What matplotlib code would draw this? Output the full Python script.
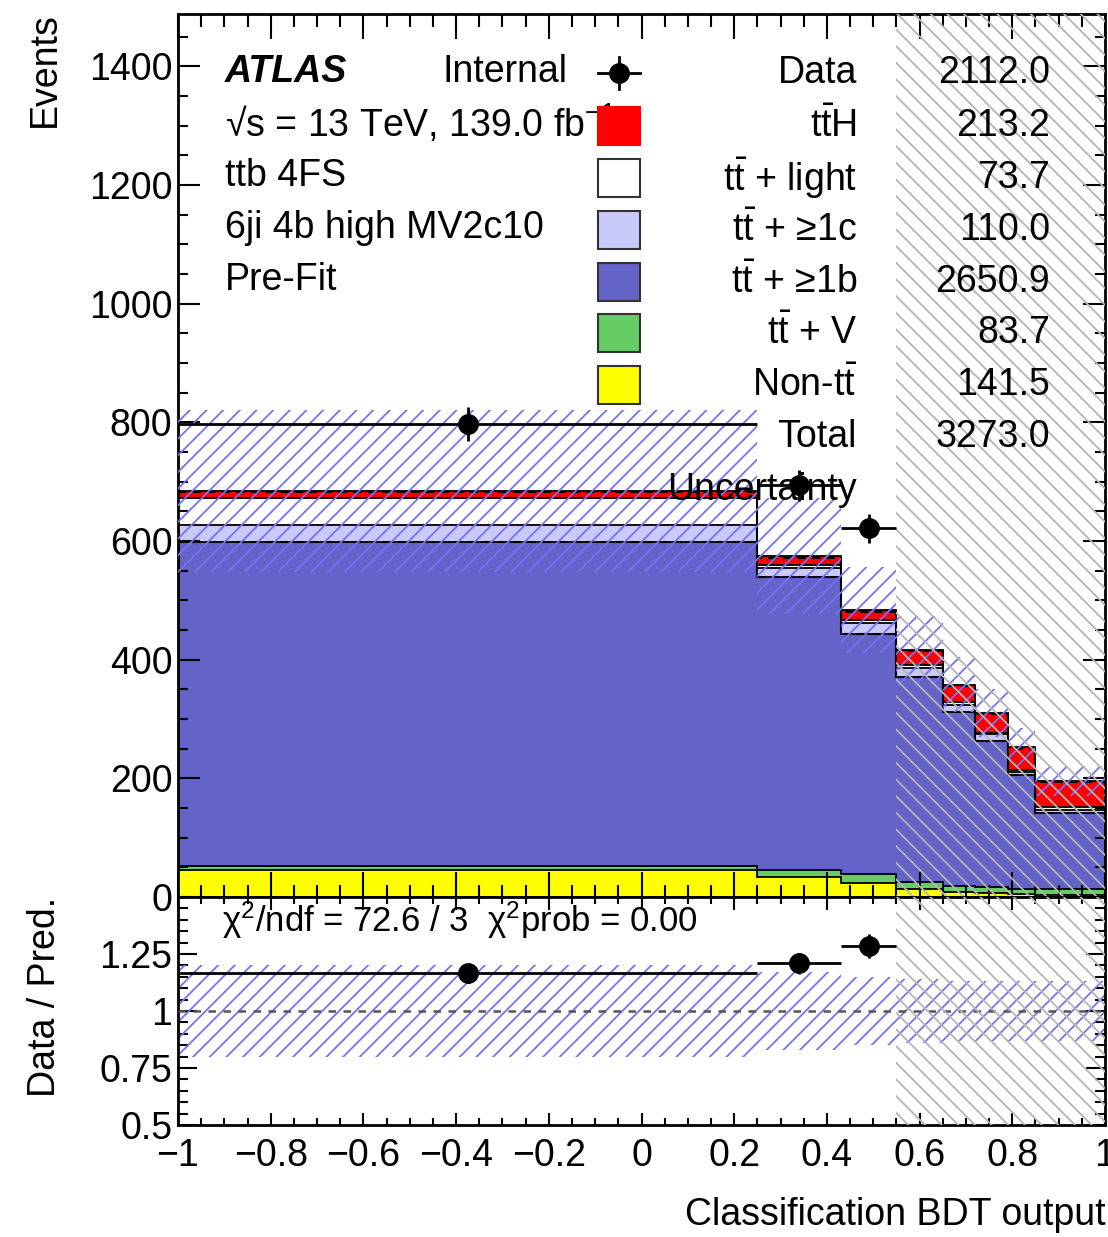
import numpy as np
import matplotlib
matplotlib.use("Agg")
import matplotlib.pyplot as plt
from matplotlib.patches import Rectangle
from matplotlib.lines import Line2D
from matplotlib.ticker import MultipleLocator, FixedLocator, FuncFormatter

plt.rcParams['font.family'] = ['Liberation Sans', 'DejaVu Sans']
plt.rcParams['mathtext.fontset'] = 'custom'
plt.rcParams['mathtext.rm'] = 'Liberation Sans'
plt.rcParams['mathtext.it'] = 'Liberation Sans:italic'
plt.rcParams['mathtext.bf'] = 'Liberation Sans:bold'
plt.rcParams['hatch.linewidth'] = 1.3

# ---------------- data ----------------
edges = [-1.0, 0.25, 0.43, 0.55, 0.65, 0.72, 0.79, 0.85, 1.0]
blind_from = 0.55
non_tt = [45, 33, 24, 14, 9, 7, 5, 4]
ttV = [8, 12, 14, 11, 10, 10, 9, 9]
tt_1b = [546, 494, 405, 346, 293, 246, 192, 129]
tt_1c = [28, 16, 18, 15, 12, 11, 5, 5]
tt_light = [45, 5, 5, 5, 4, 3, 3, 4]
ttH = [12, 14, 17, 25, 30, 33, 38, 44]
data = [797, 694, 621]          # unblinded bins only
rel_unc = [0.20, 0.17, 0.15, 0.14, 0.13, 0.13, 0.13, 0.13]

legend_labels = ["Data", r"$\mathregular{t\bar{t}H}$", r"$\mathregular{t\bar{t}}$ + light",
                 r"$\mathregular{t\bar{t}}$ + ≥1c", r"$\mathregular{t\bar{t}}$ + ≥1b",
                 r"$\mathregular{t\bar{t}}$ + V", r"Non-$\mathregular{t\bar{t}}$", "Total", "Uncertainty"]
legend_values = ["2112.0", "213.2", "73.7", "110.0", "2650.9", "83.7", "141.5", "3273.0", ""]
left_texts = ["√s = 13 TeV, 139.0 fb$^{-1}$", "ttb 4FS", "6ji 4b high MV2c10", "Pre-Fit"]
chi2_text = r"$\mathregular{\chi^{2}}$/ndf = 72.6 / 3  $\mathregular{\chi^{2}}$prob = 0.00"

FS = 27

# ---------------- figure ----------------
W, H = 1108, 1237
fig = plt.figure(figsize=(W / 100, H / 100), dpi=100)


def fx(x):
    return x / W


def fy(y):
    return 1 - y / H


ax = fig.add_axes([fx(178), fy(897), (1105 - 178) / W, (897 - 14) / H])
rax = fig.add_axes([fx(178), fy(1125), (1105 - 178) / W, (1125 - 897) / H])

edges_a = np.array(edges)
widths = np.diff(edges_a)
centers = 0.5 * (edges_a[:-1] + edges_a[1:])

comps = [(non_tt, '#ffff00'), (ttV, '#66cc66'), (tt_1b, '#6363c8'),
         (tt_1c, '#c9c9fa'), (tt_light, '#ffffff'), (ttH, '#ff0000')]
cum = np.zeros(len(centers))
tops = []
for vals, col in comps:
    top = cum + np.array(vals, float)
    ax.stairs(top, edges_a, baseline=cum.copy(), fill=True, color=col, lw=0, zorder=1)
    ax.stairs(top, edges_a, baseline=None, color='black', lw=1.3, zorder=2)
    tops.append(top)
    cum = top
total = cum
# dashed overlays as in the reference (top of tt+>=1b and of ttH)
ax.stairs(tops[2], edges_a, baseline=None, color='black', lw=1.5, ls=(0, (4, 3)), zorder=2)
ax.stairs(total - 2, edges_a, baseline=None, color='black', lw=1.5, ls=(0, (4, 3)), zorder=2)

unc = total * np.array(rel_unc)
ax.bar(edges_a[:-1], 2 * unc, bottom=total - unc, width=widths, align='edge',
       facecolor='none', edgecolor='#7373f5', hatch='//', lw=0, zorder=3)
ax.axvspan(blind_from, edges_a[-1], facecolor='none', edgecolor='#b5b5b5',
           hatch='\\\\', lw=0, zorder=4)

nd = len(data)
d = np.array(data, float)
ax.errorbar(centers[:nd], d, xerr=widths[:nd] / 2, yerr=np.sqrt(d), fmt='o',
            color='black', ms=14, elinewidth=2, capsize=0, zorder=6)

# ratio
rax.bar(edges_a[:-1], 2 * np.array(rel_unc), bottom=1 - np.array(rel_unc), width=widths,
        align='edge', facecolor='none', edgecolor='#7373f5', hatch='//', lw=0, zorder=2)
rax.axhline(1.0, ls=(0, (3, 3)), color='#555555', lw=1.8, zorder=3)
rax.axvspan(blind_from, edges_a[-1], facecolor='none', edgecolor='#b5b5b5',
            hatch='\\\\', lw=0, zorder=4)
ratio = d / total[:nd]
rax.errorbar(centers[:nd], ratio, xerr=widths[:nd] / 2, yerr=np.sqrt(d) / total[:nd],
             fmt='o', color='black', ms=14, elinewidth=2, capsize=0, zorder=6)
fig.text(fx(222), fy(920), chi2_text, fontsize=25, va='center', ha='left')


def tickfmt(v, p):
    s = '%g' % round(v, 6)
    if s == '-0':
        s = '0'
    return s.replace('-', '\u2212')


fmt = FuncFormatter(tickfmt)
for a in (ax, rax):
    a.set_xlim(edges_a[0], edges_a[-1])
    a.xaxis.set_major_locator(MultipleLocator(0.2))
    a.xaxis.set_minor_locator(MultipleLocator(0.05))
    a.tick_params(which='both', direction='in', top=True, right=True,
                  labelsize=FS, width=1.5)
    for s in a.spines.values():
        s.set_linewidth(2)
ax.set_ylim(0, 1488)
ax.yaxis.set_major_locator(MultipleLocator(200))
ax.yaxis.set_minor_locator(MultipleLocator(50))
ax.tick_params(axis='x', which='major', length=18, labelbottom=False)
ax.tick_params(axis='x', which='minor', length=9)
ax.tick_params(axis='y', which='major', length=16, pad=4)
ax.tick_params(axis='y', which='minor', length=7)

rax.set_ylim(0.5, 1.5)
rax.yaxis.set_major_locator(FixedLocator([0.5, 0.75, 1.0, 1.25]))
rax.yaxis.set_minor_locator(MultipleLocator(0.05))
rax.yaxis.set_major_formatter(fmt)
rax.xaxis.set_major_formatter(fmt)
rax.tick_params(axis='x', which='major', length=9, pad=9)
rax.tick_params(axis='x', which='minor', length=5)
rax.tick_params(axis='y', which='major', length=14, pad=4)
rax.tick_params(axis='y', which='minor', length=7)

# labels
fig.text(fx(45), fy(12), 'Events', rotation=90, ha='center', va='top', fontsize=FS)
fig.text(fx(45), fy(997), 'Data / Pred.', rotation=90, ha='center', va='center', fontsize=FS)
fig.text(fx(1106), fy(1215), 'Classification BDT output', ha='right', va='center', fontsize=FS)

# left annotations
fig.text(fx(225), fy(72), 'ATLAS', fontsize=FS, fontweight='bold', fontstyle='italic',
         ha='left', va='center')
fig.text(fx(443), fy(72), 'Internal', fontsize=FS, ha='left', va='center')
for i, t in enumerate(left_texts):
    fig.text(fx(225), fy(124 + 52 * i), t, fontsize=FS, ha='left', va='center')

# legend
rows = [73, 126, 178, 230, 282, 333, 385, 437, 490]
box_cols = [None, '#ff0000', '#ffffff', '#c9c9fa', '#6363c8', '#66cc66', '#ffff00', None, None]
for y, lab, val, col in zip(rows, legend_labels, legend_values, box_cols):
    fig.text(fx(857), fy(y), lab, fontsize=FS, ha='right', va='center', zorder=7)
    if val:
        fig.text(fx(1050), fy(y), val, fontsize=FS, ha='right', va='center', zorder=7)
    if col is not None:
        ec = '#ff0000' if col == '#ff0000' else '#333333'
        fig.add_artist(Rectangle((fx(598), fy(y + 19)), 42 / W, 38 / H, transform=fig.transFigure,
                                 facecolor=col, edgecolor=ec, lw=1.5, zorder=5))
y0 = rows[0]
fig.add_artist(Line2D([fx(598), fx(640)], [fy(y0), fy(y0)], color='black', lw=2,
                      transform=fig.transFigure, zorder=5))
fig.add_artist(Line2D([fx(619), fx(619)], [fy(y0 - 16), fy(y0 + 16)], color='black', lw=2,
                      transform=fig.transFigure, zorder=5))
fig.add_artist(Line2D([fx(619)], [fy(y0)], marker='o', ms=14, color='black',
                      transform=fig.transFigure, zorder=5))

fig.savefig('out.png', dpi=100)
